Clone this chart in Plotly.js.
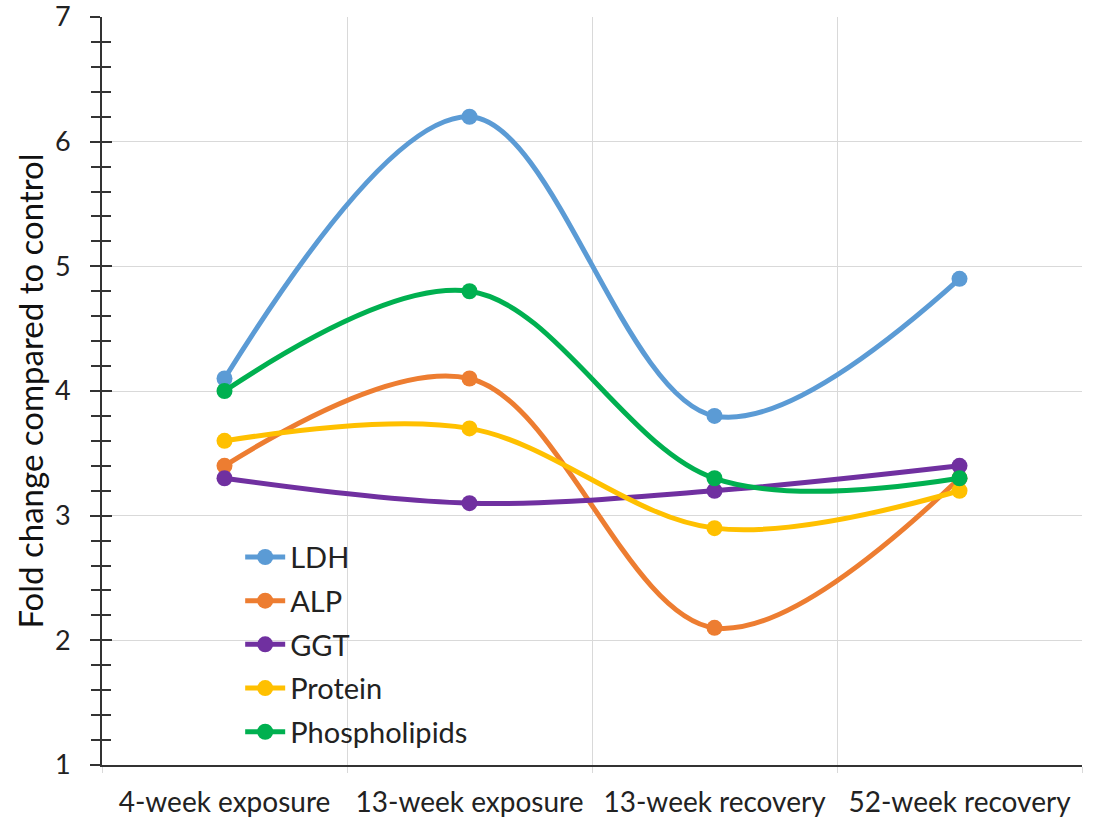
<!DOCTYPE html>
<html>
<head>
<meta charset="utf-8">
<script src="https://cdn.plot.ly/plotly-3.0.1.min.js"></script>
<style>html,body{margin:0;padding:0;background:#fff;}#chart{width:1097px;height:819px;}</style>
</head>
<body>
<div id="chart"></div>
<script>
const categories = ["4-week exposure", "13-week exposure", "13-week recovery", "52-week recovery"];
const seriesNames = ["LDH", "ALP", "GGT", "Protein", "Phospholipids"];
const LDH = [4.1, 6.2, 3.8, 4.9];
const ALP = [3.4, 4.1, 2.1, 3.3];
const GGT = [3.3, 3.1, 3.2, 3.4];
const Protein = [3.6, 3.7, 2.9, 3.2];
const Phospholipids = [4.0, 4.8, 3.3, 3.3];
const yTicks = [1, 2, 3, 4, 5, 6, 7];

const seriesValues = [LDH, ALP, GGT, Protein, Phospholipids];
const colors = ["#5B9BD5", "#ED7D31", "#7030A0", "#FFC000", "#00B050"];
const FONT = "Lato, 'Open Sans', sans-serif";

const traces = seriesNames.map((name, i) => ({
  type: "scatter",
  mode: "lines+markers",
  name: name,
  x: categories,
  y: seriesValues[i],
  line: {color: colors[i], width: 5, shape: "spline", smoothing: 1},
  marker: {color: colors[i], size: 16},
  legendgroup: name,
  cliponaxis: false
}));

const axisCommon = {
  range: [1, 7],
  tickvals: yTicks,
  ticktext: yTicks.map(String),
  linecolor: "#333",
  linewidth: 2,
  tickcolor: "#333",
  tickwidth: 2,
  ticklen: 10,
  zeroline: false,
  fixedrange: true,
  minor: {dtick: 0.2, ticks: "outside", ticklen: 9, tickcolor: "#333", tickwidth: 2, showgrid: false}
};

const layout = {
  width: 1097,
  height: 819,
  margin: {l: 102, r: 15, t: 17, b: 54},
  paper_bgcolor: "#fff",
  plot_bgcolor: "#fff",
  showlegend: true,
  font: {family: FONT, color: "#222"},
  xaxis: {
    type: "category",
    range: [-0.5, 3.5],
    tickson: "boundaries",
    showgrid: true,
    gridcolor: "#d9d9d9",
    gridwidth: 1,
    showline: true,
    linecolor: "#333",
    linewidth: 2,
    ticks: "outside",
    ticklen: 6,
    tickcolor: "#d9d9d9",
    tickfont: {size: 28, family: FONT, color: "#222"},
    ticklabelstandoff: 11,
    zeroline: false,
    mirror: false
  },
  yaxis: Object.assign({}, axisCommon, {
    showgrid: true,
    gridcolor: "#d9d9d9",
    gridwidth: 1,
    showline: true,
    ticks: "outside",
    ticklabeloverflow: "allow",
    tickfont: {size: 27, family: FONT, color: "#222"},
    ticklabelstandoff: 14,
    title: {text: "Fold change compared to control", font: {size: 33, family: FONT, color: "#111"}, standoff: 1}
  }),
  yaxis2: Object.assign({}, axisCommon, {
    overlaying: "y",
    side: "left",
    anchor: "x",
    showgrid: false,
    showline: false,
    ticks: "inside",
    showticklabels: false,
    minor: {dtick: 0.2, ticks: "inside", ticklen: 9, tickcolor: "#333", tickwidth: 2, showgrid: false}
  }),
  legend: {
    x: 0.141,
    y: 0.312,
    xanchor: "left",
    yanchor: "top",
    bgcolor: "rgba(0,0,0,0)",
    font: {size: 29, family: FONT, color: "#222"},
    traceorder: "grouped",
    tracegroupgap: 3,
    itemwidth: 40
  }
};

traces.push({type: "scatter", x: [], y: [], yaxis: "y2", showlegend: false, hoverinfo: "skip"});

Plotly.newPlot("chart", traces, layout, {displayModeBar: false, staticPlot: true});
</script>
</body>
</html>
